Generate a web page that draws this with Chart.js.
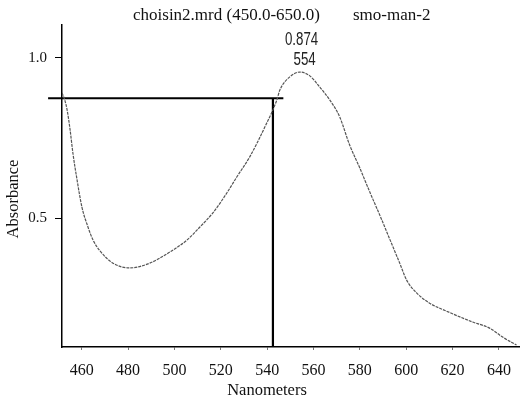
<!DOCTYPE html>
<html>
<head>
<meta charset="utf-8">
<script src="https://cdn.jsdelivr.net/npm/chart.js@4.4.0/dist/chart.umd.min.js"></script>
<style>
html,body{margin:0;padding:0;background:#fff;}
#wrap{width:522px;height:399px;position:relative;}
</style>
</head>
<body>
<div id="wrap"><canvas id="c" width="522" height="399"></canvas></div>
<script>
const wavelengths = [451.5,452.8,453.7,455.0,456.2,458.0,460.1,462.7,464.9,467.9,473.5,480.8,489.4,498.1,505.4,511.0,516.6,522.6,526.9,532.5,539.0,544.2,545.5,549.8,554.1,558.4,562.7,567.0,571.3,575.6,580.0,584.3,588.6,592.9,597.2,600.2,604.5,610.1,617.4,628.7,636.0,641.6,647.6];
const absorbance = [0.891,0.866,0.838,0.775,0.703,0.619,0.534,0.472,0.431,0.397,0.359,0.344,0.359,0.394,0.431,0.472,0.516,0.578,0.628,0.691,0.784,0.869,0.900,0.941,0.956,0.944,0.909,0.869,0.816,0.728,0.656,0.581,0.509,0.434,0.359,0.306,0.266,0.234,0.209,0.175,0.156,0.128,0.103];
const xTickValues = [460,480,500,520,540,560,580,600,620,640];
const yTickValues = [0.5,1.0];
const markerX = 542.5;
const markerY = 0.874;
const markerLineStart = 445.5;
const markerLineEnd = 547;
const peakLabelValue = "0.874";
const peakLabelNm = "554";
const peakNm = 554;
const titleLeft = "choisin2.mrd (450.0-650.0)";
const titleRight = "smo-man-2";
const xTitle = "Nanometers";
const yTitle = "Absorbance";
const xMin = 451.5, xMax = 649;
const yMin = 0.097, yMax = 1.103;

const curve = wavelengths.map((w,i)=>({x:w,y:absorbance[i]}));
const hLine = [{x:markerLineStart,y:markerY},{x:markerLineEnd,y:markerY}];
const vLine = [{x:markerX,y:markerY},{x:markerX,y:yMin}];

const serif = '"Liberation Serif","Times New Roman",serif';
const sans = '"Liberation Sans",Arial,sans-serif';

const textPlugin = {
  id:'texts',
  afterDraw(chart){
    const ctx = chart.ctx;
    const xs = chart.scales.x;
    ctx.save();
    ctx.fillStyle = '#111';
    ctx.textBaseline = 'middle';
    ctx.font = '17px ' + serif;
    ctx.textAlign = 'left';
    ctx.fillText(titleLeft, 133, 16);
    ctx.fillText(titleRight, 353, 16);
    ctx.font = '16.5px ' + serif;
    ctx.textAlign = 'center';
    ctx.fillText(xTitle, 267, 391);
    ctx.save();
    ctx.translate(14, 199);
    ctx.rotate(-Math.PI/2);
    ctx.fillText(yTitle, 0, 0);
    ctx.restore();
    ctx.font = '17.5px ' + sans;
    ctx.fillStyle = '#222';
    const px = xs.getPixelForValue(peakNm);
    ctx.save();
    ctx.translate(px + 2, 0);
    ctx.scale(0.76, 1);
    ctx.fillText(peakLabelValue, 0, 40);
    ctx.fillText(peakLabelNm, 4, 60.5);
    ctx.restore();
    ctx.restore();
  }
};

new Chart(document.getElementById('c'), {
  type:'scatter',
  data:{
    datasets:[
      {data:curve, showLine:true, borderColor:'#555', borderWidth:1.2, borderDash:[3,1], pointRadius:0, cubicInterpolationMode:'monotone', fill:false},
      {data:hLine, showLine:true, borderColor:'#000', borderWidth:2, pointRadius:0, clip:false},
      {data:vLine, showLine:true, borderColor:'#000', borderWidth:2.2, pointRadius:0, clip:false}
    ]
  },
  options:{
    responsive:false,
    animation:false,
    devicePixelRatio:1,
    layout:{padding:{left:0,right:2,top:25,bottom:0}},
    plugins:{legend:{display:false},tooltip:{enabled:false},title:{display:false}},
    scales:{
      x:{
        type:'linear', min:xMin, max:xMax,
        afterBuildTicks(s){ s.ticks = xTickValues.map(v=>({value:v})); },
        afterFit(s){ s.height = 52; },
        grid:{drawOnChartArea:false, drawTicks:true, tickLength:3, color:'#777'},
        border:{display:true, color:'#000', width:1.5},
        ticks:{color:'#111', padding:11, maxRotation:0, autoSkip:false, font:{family:serif, size:16}, callback:v=>String(v)}
      },
      y:{
        type:'linear', min:yMin, max:yMax,
        afterBuildTicks(s){ s.ticks = yTickValues.map(v=>({value:v})); },
        afterFit(s){ s.width = 62; },
        grid:{drawOnChartArea:false, drawTicks:true, tickLength:7, color:'#000'},
        border:{display:true, color:'#000', width:1.5},
        ticks:{color:'#111', padding:8, font:{family:serif, size:15}, callback:v=>v.toFixed(1)}
      }
    }
  },
  plugins:[textPlugin]
});
</script>
</body>
</html>
